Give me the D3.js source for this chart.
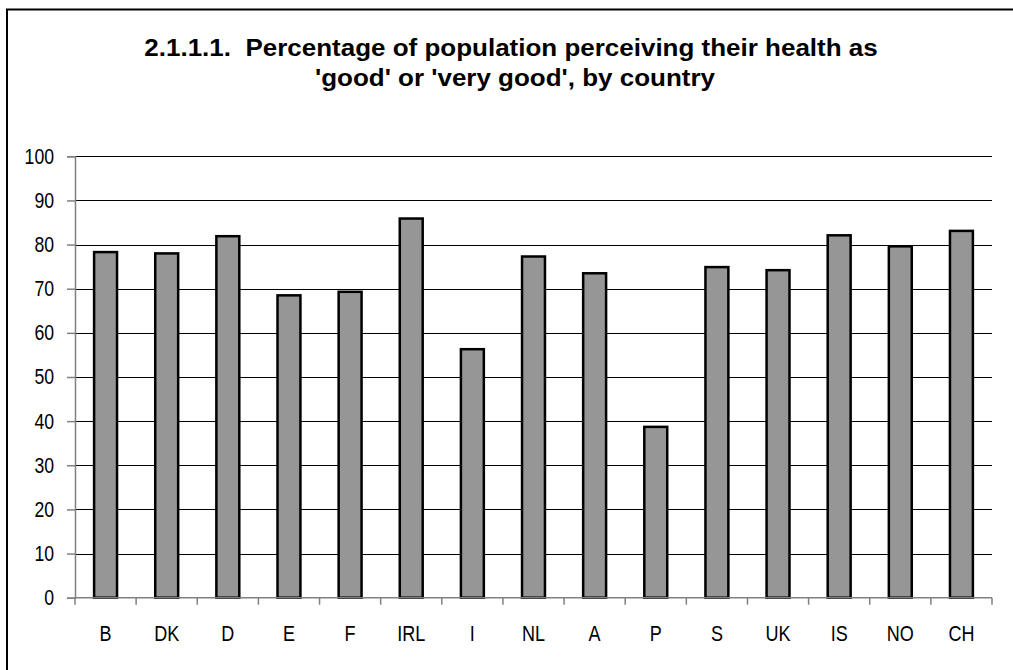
<!DOCTYPE html>
<html>
<head>
<meta charset="utf-8">
<script src="https://cdn.jsdelivr.net/npm/d3@7"></script>
<style>
  html, body { margin: 0; padding: 0; background: #fff; }
  svg { display: block; }
  text { font-family: "Liberation Sans", Arial, sans-serif; }
</style>
</head>
<body>
<svg id="chart" width="1013" height="670"></svg>
<script>
// Share of population rating own health 'good' or 'very good'
const countries = ["B", "DK", "D", "E", "F", "IRL", "I", "NL", "A", "P", "S", "UK", "IS", "NO", "CH"];
const percentGood = [78.3, 78.0, 81.9, 68.5, 69.3, 85.9, 56.3, 77.3, 73.5, 38.7, 74.9, 74.2, 82.1, 79.6, 83.1];
const yTicks = [0, 10, 20, 30, 40, 50, 60, 70, 80, 90, 100];
const titleNumber = "2.1.1.1.";
const titleLines = [
  "Percentage of population perceiving their health as",
  "'good' or 'very good', by country"
];

const svg = d3.select("#chart");
const W = 1013, H = 670;
const plot = { left: 75, right: 992, top: 156.3, bottom: 597.7 };
const NARROW = 0.82;   // horizontal squeeze for the condensed axis lettering
const WIDE = 1.13;     // horizontal stretch for the title lettering
const TITLE_SIZE = 23.5;

// frame: top and left edges only
svg.append("path")
  .attr("d", `M7,${H} L7,9.5 L${W},9.5`)
  .attr("fill", "none")
  .attr("stroke", "#000")
  .attr("stroke-width", 2);

// title: section number, double space, then the heading
const t1 = svg.append("text")
  .attr("transform", `translate(511,56) scale(${WIDE * 23 / TITLE_SIZE},1)`)
  .attr("text-anchor", "middle")
  .attr("font-size", TITLE_SIZE)
  .attr("font-weight", "bold")
  .attr("fill", "#000");
t1.append("tspan").text(titleNumber);
t1.append("tspan").attr("dx", TITLE_SIZE * 0.556).text(titleLines[0]);

svg.append("text")
  .attr("transform", `translate(515,86) scale(${WIDE * 23 / TITLE_SIZE},1)`)
  .attr("text-anchor", "middle")
  .attr("font-size", TITLE_SIZE)
  .attr("font-weight", "bold")
  .attr("fill", "#000")
  .text(titleLines[1]);

const x = d3.scaleBand().domain(countries).range([plot.left, plot.right]).paddingInner(0).paddingOuter(0);
const y = d3.scaleLinear().domain([0, 100]).range([plot.bottom, plot.top]);

// horizontal gridlines
svg.append("g")
  .selectAll("line")
  .data(yTicks.filter(t => t > 0))
  .join("line")
  .attr("x1", plot.left).attr("x2", plot.right)
  .attr("y1", d => Math.round(y(d)) + 0.5).attr("y2", d => Math.round(y(d)) + 0.5)
  .attr("stroke", "#000")
  .attr("stroke-width", 1);

// bars
const barW = x.bandwidth() * 0.375;
svg.append("g")
  .selectAll("rect")
  .data(countries.map((c, i) => ({ c, v: percentGood[i] })))
  .join("rect")
  .attr("x", d => x(d.c) + (x.bandwidth() - barW) / 2)
  .attr("y", d => y(d.v))
  .attr("width", barW)
  .attr("height", d => y(0) - y(d.v))
  .attr("fill", "#969696")
  .attr("stroke", "#000")
  .attr("stroke-width", 2.5);

// y axis
const yAxis = svg.append("g")
  .attr("transform", `translate(${plot.left},0)`)
  .call(d3.axisLeft(y).tickValues(yTicks).tickSize(8).tickPadding(13));
yAxis.select(".domain").attr("stroke", "#808080").attr("stroke-width", 1.5);
yAxis.selectAll(".tick line").attr("stroke", "#808080").attr("stroke-width", 1.5);
yAxis.selectAll(".tick text")
  .attr("font-size", 21.5)
  .attr("fill", "#000")
  .attr("transform", function () {
    const tx = +d3.select(this).attr("x");
    return `translate(${tx},0) scale(${NARROW},1)`;
  })
  .attr("x", 0);

// x axis with ticks at category boundaries
const xAxisG = svg.append("g").attr("transform", `translate(0,${plot.bottom})`);
xAxisG.append("line")
  .attr("x1", plot.left).attr("x2", plot.right)
  .attr("y1", 0).attr("y2", 0)
  .attr("stroke", "#808080").attr("stroke-width", 1.5);
const boundaries = countries.map(c => x(c)).concat([x(countries[countries.length - 1]) + x.bandwidth()]);
xAxisG.selectAll("line.tk")
  .data(boundaries)
  .join("line")
  .attr("class", "tk")
  .attr("x1", d => d).attr("x2", d => d)
  .attr("y1", 0).attr("y2", 7)
  .attr("stroke", "#808080").attr("stroke-width", 1.5);
xAxisG.selectAll("text")
  .data(countries)
  .join("text")
  .attr("transform", d => `translate(${x(d) + x.bandwidth() / 2},43.5) scale(${NARROW},1)`)
  .attr("text-anchor", "middle")
  .attr("font-size", 22)
  .attr("fill", "#000")
  .text(d => d);
</script>
</body>
</html>
